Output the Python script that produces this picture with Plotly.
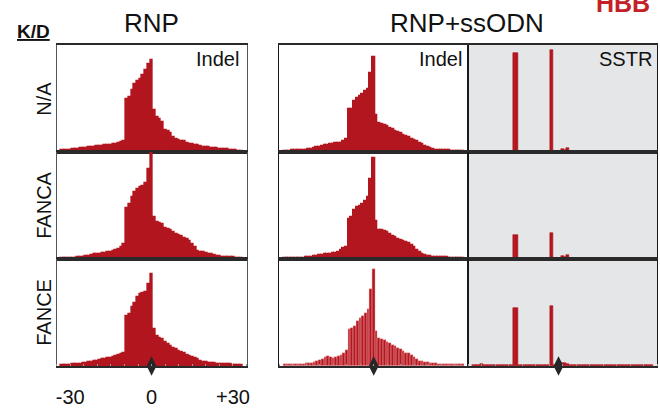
import plotly.graph_objects as go

# ---------------- data (heights in arbitrary frequency units) ----------------
offsets = list(range(-33, 34))          # indel position bins, -33 .. +33

tick_vals = [-30, 0, 30]
tick_text = ["-30", "0", "+30"]

col_titles = ["RNP", "RNP+ssODN"]
row_labels = ["N/A", "FANCA", "FANCE"]
panel_tags = ["Indel", "Indel", "SSTR"]
cut_site = [0, 0, -1.5]                 # diamond marker position per column

rnp_na = [5, 6, 7, 7, 8, 9, 10, 11, 12, 13, 14, 15, 16, 17, 18, 19, 20, 21, 22, 23, 25, 28, 30, 32,
          160, 165, 185, 203, 212, 220, 232, 247, 263, 277,
          125, 105, 100, 90, 67, 62, 57, 45, 40, 35, 33, 32, 28, 25, 24, 22, 20, 17, 16, 15,
          14, 13, 12, 11, 10, 10, 9, 8, 7, 6, 5, 4, 4]
rnp_fanca = [3, 3, 3, 4, 4, 4, 5, 5, 6, 8, 10, 12, 14, 15, 16, 17, 18, 20, 22, 24, 27, 30, 37, 45,
             153, 165, 185, 200, 210, 215, 220, 228, 270, 325,
             125, 110, 108, 105, 92, 90, 87, 80, 75, 72, 68, 64, 60, 55, 45, 35, 25, 22, 20, 18,
             15, 14, 12, 9, 8, 6, 5, 5, 5, 5, 4, 4, 3]
rnp_fance = [3, 3, 4, 4, 5, 5, 6, 7, 8, 10, 12, 13, 14, 16, 18, 20, 21, 23, 25, 27, 29, 32, 35, 38,
             150, 155, 177, 190, 207, 217, 220, 222, 247, 277,
             112, 90, 85, 80, 72, 65, 60, 55, 50, 45, 42, 38, 34, 30, 27, 23, 20, 16, 13, 11,
             10, 9, 8, 7, 6, 6, 5, 5, 5, 4, 4, 4, 3]

odn_indel_na = [4, 4, 4, 5, 5, 5, 6, 6, 7, 8, 10, 12, 14, 16, 18, 20, 22, 24, 25, 26, 27, 28, 33, 40,
                130, 130, 153, 163, 167, 175, 182, 190, 237, 285,
                110, 88, 85, 82, 78, 73, 68, 64, 60, 56, 52, 48, 44, 40, 36, 32, 28, 23, 18, 14,
                11, 9, 7, 6, 5, 5, 5, 5, 4, 4, 4, 3, 3]
odn_indel_fanca = [3, 3, 3, 3, 3, 3, 4, 4, 5, 6, 7, 8, 9, 11, 13, 15, 16, 16, 17, 18, 22, 27, 32, 37,
                   120, 125, 148, 155, 160, 165, 175, 185, 240, 303,
                   113, 88, 86, 84, 80, 75, 70, 65, 60, 56, 53, 50, 47, 42, 35, 27, 20, 16, 13, 10,
                   8, 7, 6, 5, 5, 5, 5, 4, 4, 4, 3, 3, 3]
odn_indel_fance = [6, 6, 6, 6, 6, 6, 6, 7, 8, 8, 9, 12, 14, 17, 20, 27, 30, 27, 25, 28, 31, 34, 40, 47,
                   110, 115, 120, 135, 143, 150, 158, 171, 231, 290,
                   106, 85, 80, 78, 72, 70, 64, 60, 55, 50, 46, 40, 38, 32, 26, 22, 16, 14, 12, 12,
                   10, 8, 8, 7, 6, 6, 6, 6, 6, 5, 5, 5, 5]

odn_sstr_na = [3, 3, 3, 3, 3, 3, 3, 3, 3, 3, 3, 3, 3, 3, 3, 296, 296, 3, 3, 3, 3, 3, 3, 4,
               3, 3, 3, 3, 3, 306, 3, 3, 3, 8, 6, 12, 3, 3, 3, 3, 3, 3, 3, 3, 3, 3,
               3, 3, 3, 3, 3, 3, 3, 3, 3, 3, 3, 3, 3, 3, 3, 3, 3, 3, 3, 3, 3]
odn_sstr_fanca = [3, 3, 3, 4, 3, 3, 3, 3, 3, 3, 3, 3, 3, 3, 3, 73, 73, 3, 3, 3, 3, 3, 3, 4,
                  3, 3, 3, 3, 3, 79, 3, 3, 3, 8, 6, 12, 3, 3, 3, 3, 3, 3, 3, 3, 3, 3,
                  3, 3, 3, 3, 3, 3, 3, 3, 3, 3, 3, 3, 3, 3, 3, 3, 3, 3, 3, 3, 3]
odn_sstr_fance = [3, 3, 3, 5, 3, 3, 3, 3, 3, 3, 3, 3, 3, 3, 3, 173, 173, 3, 3, 3, 3, 3, 3, 3,
                  4, 4, 3, 3, 3, 180, 3, 3, 3, 8, 8, 6, 3, 3, 3, 3, 3, 3, 3, 3, 3, 3,
                  3, 3, 3, 3, 3, 3, 3, 3, 3, 3, 3, 3, 3, 3, 3, 3, 3, 3, 3, 3, 3]

panels = [
    [rnp_na, odn_indel_na, odn_sstr_na],
    [rnp_fanca, odn_indel_fanca, odn_sstr_fanca],
    [rnp_fance, odn_indel_fance, odn_sstr_fance],
]

# ---------------- layout geometry (pixels) ----------------
W, H = 660, 410
col_px = [(56, 247), (280, 470), (470, 660)]
row_px = [(45, 152), (152, 259), (259, 366)]
RED = "#B2161F"
FONT = "Liberation Sans, Arial, sans-serif"


def px_x(p):
    return p / W


def px_y(p):
    return 1 - p / H


fig = go.Figure()
layout_axes = {}

for r in range(3):
    for c in range(3):
        k = r * 3 + c + 1
        xa = "x" if k == 1 else f"x{k}"
        ya = "y" if k == 1 else f"y{k}"
        gapped = (r == 2 and c == 1)
        if gapped:
            line = dict(width=0.5, color="rgba(255,190,190,0.85)")
        elif c == 2:
            line = dict(width=0.6, color=RED)
        else:
            line = dict(width=1.3, color=RED)
        fig.add_trace(go.Bar(
            x=offsets, y=panels[r][c], width=1.0,
            marker=dict(color=RED, line=line),
            xaxis=xa, yaxis=ya, showlegend=False, hoverinfo="skip",
        ))
        lc = "#555555" if c == 0 else "#1a1a1a"
        x0, x1 = col_px[c]
        y0, y1 = row_px[r]
        show_lbl = (r == 2 and c == 0)
        layout_axes["xaxis" if k == 1 else f"xaxis{k}"] = dict(
            domain=[px_x(x0), px_x(x1)], range=[-35, 35], anchor=ya,
            showline=True, mirror=True, linecolor="#2a2a2a", linewidth=1.5,
            showgrid=False, zeroline=False, ticks="",
            showticklabels=show_lbl, tickvals=tick_vals, ticktext=tick_text,
            tickfont=dict(size=20, color="#111111", family=FONT),
            ticklabelstandoff=12,
            minor=dict(ticks="inside", ticklen=2, tickcolor="#999999", dtick=5, tick0=0, showgrid=False),
            fixedrange=True,
        )
        layout_axes["yaxis" if k == 1 else f"yaxis{k}"] = dict(
            domain=[px_y(y1), px_y(y0)], range=[0, 321], anchor=xa,
            showline=True, mirror=True, linecolor=lc, linewidth=1,
            showgrid=False, zeroline=False, ticks="", showticklabels=False,
            fixedrange=True,
        )

# cut-site diamonds under the bottom row
for c in range(3):
    k = 6 + c + 1
    fig.add_trace(go.Scatter(
        x=[cut_site[c]], y=[0], mode="markers",
        marker=dict(symbol="diamond-tall", size=14, color="#262626", line=dict(width=0)),
        xaxis=f"x{k}", yaxis=f"y{k}", cliponaxis=False, showlegend=False, hoverinfo="skip",
    ))

shapes = [dict(type="rect", xref="paper", yref="paper",
               x0=px_x(col_px[2][0]), x1=px_x(col_px[2][1]),
               y0=px_y(row_px[2][1]), y1=px_y(row_px[0][0]),
               fillcolor="#E5E6E8", line=dict(width=0), layer="below")]

ann = []
ann.append(dict(text=col_titles[0], x=px_x(151.5), y=px_y(22.5), font=dict(size=26)))
ann.append(dict(text=col_titles[1], x=px_x(468.5), y=px_y(22.5), font=dict(size=26)))
ann.append(dict(text="<b><u>K/D</u></b>", x=px_x(32.5), y=px_y(32), font=dict(size=19)))
ann.append(dict(text="<b>HBB</b>", x=px_x(625.5), y=px_y(3), font=dict(size=25, color="#C42127")))
for r, lbl in enumerate(row_labels):
    yc = (row_px[r][0] + row_px[r][1]) / 2
    ann.append(dict(text=lbl, x=px_x(42.5), y=px_y(yc), textangle=-90, font=dict(size=20)))
tag_right = [241, 466, 657]
for c, tag in enumerate(panel_tags):
    ann.append(dict(text=tag, x=px_x(tag_right[c]), y=px_y(58.5), xanchor="right", font=dict(size=20)))

for a in ann:
    a.setdefault("xanchor", "center")
    a.update(xref="paper", yref="paper", yanchor="middle", showarrow=False)
    f = a["font"]
    f.setdefault("color", "#111111")
    f["family"] = FONT

fig.update_layout(
    width=W, height=H, margin=dict(l=0, r=0, t=0, b=0),
    paper_bgcolor="white", plot_bgcolor="rgba(0,0,0,0)",
    bargap=0, barmode="overlay",
    font=dict(family=FONT, color="#111111"),
    shapes=shapes, annotations=ann,
    **layout_axes,
)

fig.write_html("out.html")
